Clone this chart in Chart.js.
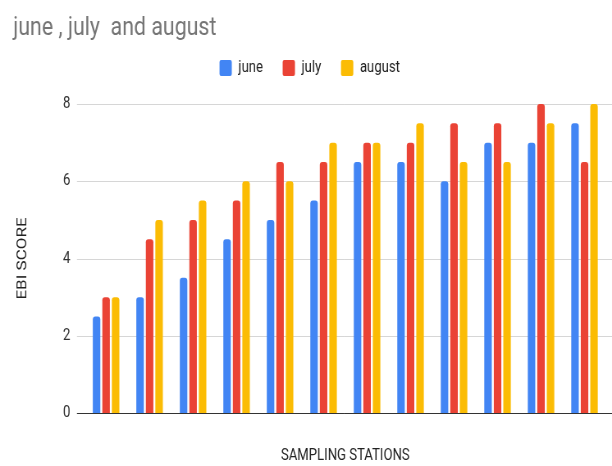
<!DOCTYPE html>
<html>
<head>
<meta charset="utf-8">
<script src="https://cdn.jsdelivr.net/npm/chart.js@4.4.1/dist/chart.umd.min.js"></script>
<style>
  html, body { margin: 0; padding: 0; background: #ffffff; overflow: hidden; width: 612px; height: 466px; }
  #c { display: block; }
</style>
</head>
<body>
<canvas id="c" width="746" height="466" style="width:612px;height:466px;display:block;"></canvas>
<script>
const stations = ['S1','S2','S3','S4','S5','S6','S7','S8','S9','S10','S11','S12'];
const june   = [2.5, 3, 3.5, 4.5, 5, 5.5, 6.5, 6.5, 6, 7, 7, 7.5];
const july   = [3, 4.5, 5, 5.5, 6.5, 6.5, 7, 7, 7.5, 7.5, 8, 6.5];
const august = [3, 5, 5.5, 6, 6, 7, 7, 7.5, 6.5, 6.5, 7.5, 8];
const yTicks = [0, 2, 4, 6, 8];

const FONT = 'Roboto, "Liberation Sans", Arial, sans-serif';
const GRID = '#d6d6d6';
const BASE = '#333333';
const TICK_LEN = 9;
const barRadius = {topLeft: 3, topRight: 3, bottomLeft: 0, bottomRight: 0};

function ds(label, data, color) {
  return {
    label, data,
    backgroundColor: color,
    borderWidth: 0,
    borderRadius: barRadius,
    borderSkipped: 'bottom',
    categoryPercentage: 0.656,
    barPercentage: 0.79
  };
}

function drawGridlines(chart, x0, x1) {
  const {ctx, scales: {y}} = chart;
  ctx.save();
  ctx.lineWidth = 1;
  y.ticks.forEach(t => {
    const py = Math.round(y.getPixelForValue(t.value)) + 0.5;
    ctx.strokeStyle = t.value === 0 ? BASE : GRID;
    ctx.beginPath();
    ctx.moveTo(x0, py);
    ctx.lineTo(x1, py);
    ctx.stroke();
  });
  ctx.restore();
}

// space under the legend; horizontal gridlines (from the y scale ticks) running to the right edge
const layoutPlugin = {
  id: 'layoutTweaks',
  beforeLayout(chart) {
    const lg = chart.legend;
    if (lg && !lg._patched) {
      const orig = lg.fit;
      lg.fit = function () { orig.call(this); this.height += 18.1; };
      lg._patched = true;
    }
  },
  beforeDatasetsDraw(chart) {
    drawGridlines(chart, chart.chartArea.left - TICK_LEN, chart.width);
  }
};

new Chart(document.getElementById('c'), {
  type: 'bar',
  data: {
    labels: stations,
    datasets: [
      ds('june', june, '#4285F4'),
      ds('july', july, '#EA4335'),
      ds('august', august, '#FBBC04')
    ]
  },
  plugins: [layoutPlugin],
  options: {
    responsive: false,
    maintainAspectRatio: false,
    devicePixelRatio: 1,
    animation: false,
    layout: { padding: { left: 16, right: 7, top: 0, bottom: 0 } },
    plugins: {
      title: {
        display: true,
        text: 'june , july  and august',
        align: 'start',
        color: '#757575',
        font: { family: FONT, size: 26, weight: 'normal', lineHeight: 0.6 },
        padding: { top: 20.3, bottom: 0 }
      },
      legend: {
        display: true,
        position: 'top',
        align: 'center',
        labels: {
          color: '#222222',
          font: { family: FONT, size: 16 },
          boxWidth: 15,
          boxHeight: 16,
          padding: 24,
          useBorderRadius: true,
          borderRadius: 2
        }
      },
      tooltip: { enabled: false }
    },
    scales: {
      x: {
        grid: { display: false, drawTicks: false },
        border: { display: false },
        ticks: { display: false },
        title: {
          display: true,
          text: 'SAMPLING STATIONS',
          color: '#222222',
          font: { family: FONT, size: 16, lineHeight: 1.2 },
          padding: { top: 0, bottom: 0 }
        },
        afterFit(s) { s.height = 53; }
      },
      y: {
        min: 0,
        max: 8,
        afterBuildTicks(s) { s.ticks = yTicks.map(v => ({ value: v })); },
        ticks: {
          color: '#333333',
          font: { family: FONT, size: 16 },
          padding: 17
        },
        grid: { display: false, drawTicks: false },
        border: { display: false },
        title: {
          display: true,
          text: 'EBI SCORE',
          color: '#222222',
          font: { family: FONT, size: 17, lineHeight: 1.2 },
          padding: { top: 2, bottom: 0 }
        },
        afterFit(s) { s.width = 86.8; }
      }
    }
  }
});
</script>
</body>
</html>
